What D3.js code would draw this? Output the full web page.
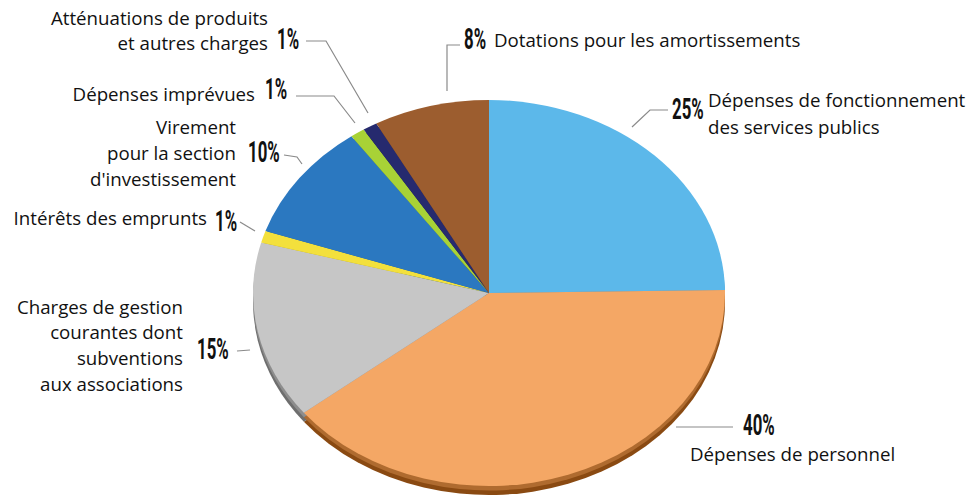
<!DOCTYPE html>
<html><head><meta charset="utf-8">
<script src="https://cdn.jsdelivr.net/npm/d3@7"></script>
<style>
body{margin:0;background:#fff;}
.lab{font-family:"Open Sans",Roboto,sans-serif;font-size:18.7px;fill:#111;}
.pct{font-family:Roboto,"DejaVu Sans",sans-serif;font-weight:bold;font-size:30px;fill:#111;}
</style></head>
<body><svg id="c" width="970" height="500"></svg>
<script>
const categories = ["Dépenses de fonctionnement des services publics","Dépenses de personnel","Charges de gestion courantes dont subventions aux associations","Intérêts des emprunts","Virement pour la section d'investissement","Dépenses imprévues","Atténuations de produits et autres charges","Dotations pour les amortissements"];
const values = [25, 40, 15, 1, 10, 1, 1, 8];
const pctLabels = ["25%","40%","15%","1%","10%","1%","1%","8%"];
const colors = ["#5cb8ea","#f4a765","#c6c6c6","#f3e03c","#2b78c0","#a8d236","#262a6e","#9c5d2f"];
const sideColors = ["#2f7fb0","#8a4a12","#6e6e6e","#9a8a10","#174a80","#5f7a10","#10123a","#5a3010"];

const svg = d3.select("#c");
const cx = 489, cy = 293, rx = 236, ry = 193, depth = 9;
const pie = d3.pie().sort(null).value(d => d);
const arcs = pie(values);
const arc = d3.arc().innerRadius(0).outerRadius(rx);

// side (depth)
const sideG = svg.append("g").attr("transform", `translate(${cx},${cy+depth}) scale(1,${ry/rx})`);
sideG.selectAll("path").data(arcs).join("path").attr("d", arc).attr("fill", (d,i)=>sideColors[i]);
const sideG2 = svg.append("g").attr("transform", `translate(${cx},${cy+depth/2}) scale(1,${ry/rx})`);
sideG2.selectAll("path").data(arcs).join("path").attr("d", arc).attr("fill", (d,i)=>d3.interpolateRgb(sideColors[i], colors[i])(0.35));
const topG = svg.append("g").attr("transform", `translate(${cx},${cy}) scale(1,${ry/rx})`);
topG.selectAll("path").data(arcs).join("path").attr("d", arc).attr("fill", (d,i)=>colors[i]);

// leader lines
const leaders = [
  [[668,110],[650,110],[632,127]],
  [[676,427],[733,427]],
  [[237,351],[250,350]],
  [[240,222],[255,231]],
  [[284,155],[297,157],[302,164]],
  [[296,96],[334,96],[355,123]],
  [[306,41],[326,41],[368,113]],
  [[460,45],[447,45],[447,91]]
];
svg.append("g").selectAll("path").data(leaders).join("path")
  .attr("d", d => d3.line()(d)).attr("fill","none").attr("stroke","#8a8a8a").attr("stroke-width",1.2);

// labels
const labelSpecs = [
  {p:[672,119], lines:[["Dépenses de fonctionnement",708,107,"start"],["des services publics",708,134,"start"]]},
  {p:[743,435], lines:[["Dépenses de personnel",690,461,"start"]]},
  {p:[197,359], lines:[["Charges de gestion",183,314,"end"],["courantes dont",183,339,"end"],["subventions",183,365,"end"],["aux associations",183,391,"end"]]},
  {p:[215,231], lines:[["Intérêts des emprunts",207,225,"end"]]},
  {p:[248,162], lines:[["Virement",236,134,"end"],["pour la section",236,160,"end"],["d'investissement",236,186,"end"]]},
  {p:[265,99], lines:[["Dépenses imprévues",255,101,"end"]]},
  {p:[277,49], lines:[["Atténuations de produits",268,25,"end"],["et autres charges",268,50,"end"]]},
  {p:[464,49], lines:[["Dotations pour les amortissements",494,47,"start"]]}
];
labelSpecs.forEach((s,i) => {
  svg.append("text").attr("class","pct")
    .attr("transform",`translate(${s.p[0]},${s.p[1]}) scale(0.56,1)`)
    .text(pctLabels[i]);
  s.lines.forEach(l => svg.append("text").attr("class","lab").attr("x",l[1]).attr("y",l[2]).attr("text-anchor",l[3]).text(l[0]));
});
</script></body></html>
